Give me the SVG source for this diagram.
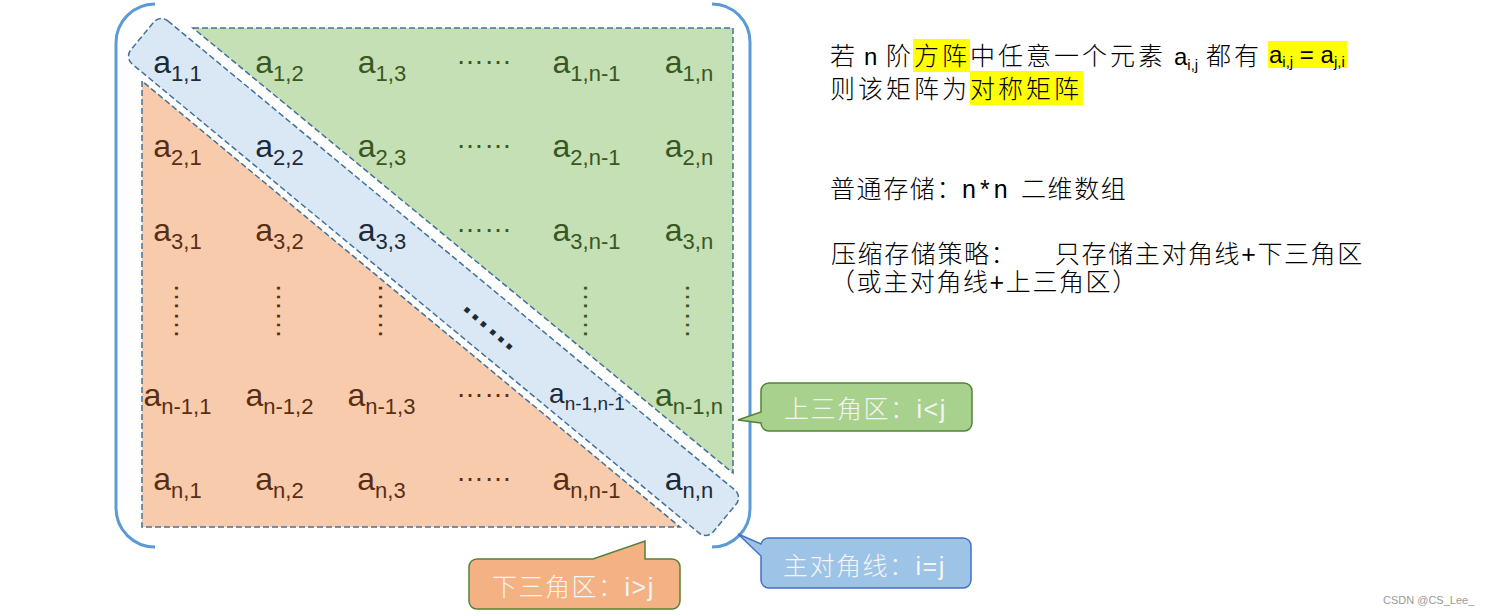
<svg xmlns="http://www.w3.org/2000/svg" width="1498" height="616" viewBox="0 0 1498 616">
<defs>
<style>
.dash{stroke:#41719C;stroke-width:1.5;stroke-dasharray:6 3}
.brk{fill:none;stroke:#5B9BD5;stroke-width:3}
.cell{font-family:"Liberation Sans",Arial,sans-serif;font-size:32px;text-anchor:middle}
.sub{font-size:22px}
.g{fill:#385723}
.o{fill:#5A2E12}
.b{fill:#1C2B39}
.dots{font-family:"Liberation Sans",Arial,sans-serif;font-size:28px;text-anchor:middle}
.cn{font-family:"Liberation Sans","Noto Sans CJK SC",sans-serif;font-size:25px;font-weight:300;fill:#000}
.w28{letter-spacing:3px}
.w27{letter-spacing:1.6px}
.lat{font-family:"Liberation Sans",Arial,sans-serif;font-size:24px;fill:#000}
.ls{font-size:15px}
.hl{fill:#FFFF00}
.co{font-family:"Liberation Sans","Noto Sans CJK SC",sans-serif;font-size:25px;font-weight:300;fill:#F5F5F5;letter-spacing:1.5px}
</style>
</defs>
<rect width="1498" height="616" fill="#fff"/>

<g id="brackets">
<path class="brk" d="M155,4 A39,39 0 0 0 116,43 V508 A39,39 0 0 0 155,547"/>
<path class="brk" d="M712,4 A38,38 0 0 1 750,42 V509 A38,38 0 0 1 712,547"/>
</g>

<g id="upper-triangle">
<polygon class="dash" points="193,28 733,28 733,473" fill="#C5E0B4"/>
</g>
<g id="lower-triangle">
<polygon class="dash" points="142,81 142,527 680,527" fill="#F8CBAD"/>
</g>
<g id="main-diagonal">
<rect class="dash" x="-378" y="-28" width="756" height="56" rx="10" fill="#DAE8F5" transform="translate(433.5,277) rotate(39.6)"/>
</g>

<g id="cells">
<!-- row 1 -->
<text class="cell b" x="177.5" y="73">a<tspan class="sub" dy="8">1,1</tspan></text>
<text class="cell g" x="279.5" y="73">a<tspan class="sub" dy="8">1,2</tspan></text>
<text class="cell g" x="382" y="73">a<tspan class="sub" dy="8">1,3</tspan></text>
<text class="dots g" x="484" y="63.5">……</text>
<text class="cell g" x="586.5" y="73">a<tspan class="sub" dy="8">1,n-1</tspan></text>
<text class="cell g" x="689" y="73">a<tspan class="sub" dy="8">1,n</tspan></text>
<!-- row 2 -->
<text class="cell o" x="177.5" y="157">a<tspan class="sub" dy="8">2,1</tspan></text>
<text class="cell b" x="279.5" y="157">a<tspan class="sub" dy="8">2,2</tspan></text>
<text class="cell g" x="382" y="157">a<tspan class="sub" dy="8">2,3</tspan></text>
<text class="dots g" x="484" y="148">……</text>
<text class="cell g" x="586.5" y="157">a<tspan class="sub" dy="8">2,n-1</tspan></text>
<text class="cell g" x="689" y="157">a<tspan class="sub" dy="8">2,n</tspan></text>
<!-- row 3 -->
<text class="cell o" x="177.5" y="241">a<tspan class="sub" dy="8">3,1</tspan></text>
<text class="cell o" x="279.5" y="241">a<tspan class="sub" dy="8">3,2</tspan></text>
<text class="cell b" x="382" y="241">a<tspan class="sub" dy="8">3,3</tspan></text>
<text class="dots g" x="484" y="232">……</text>
<text class="cell g" x="586.5" y="241">a<tspan class="sub" dy="8">3,n-1</tspan></text>
<text class="cell g" x="689" y="241">a<tspan class="sub" dy="8">3,n</tspan></text>
<!-- row 4: vertical and diagonal dots -->
<text class="dots o" y="1.4" transform="translate(176.5,311) rotate(90)">……</text>
<text class="dots o" y="1.4" transform="translate(278.5,311) rotate(90)">……</text>
<text class="dots o" y="1.4" transform="translate(380.5,311) rotate(90)">……</text>
<text class="dots b" y="1.7" style="font-size:34px;font-weight:bold" transform="translate(487.5,329) rotate(41)">……</text>
<text class="dots g" y="1.4" transform="translate(585,311) rotate(90)">……</text>
<text class="dots g" y="1.4" transform="translate(687,311) rotate(90)">……</text>
<!-- row n-1 -->
<text class="cell o" x="177.5" y="406">a<tspan class="sub" dy="8">n-1,1</tspan></text>
<text class="cell o" x="279.5" y="406">a<tspan class="sub" dy="8">n-1,2</tspan></text>
<text class="cell o" x="381.5" y="406">a<tspan class="sub" dy="8">n-1,3</tspan></text>
<text class="dots o" x="484" y="397">……</text>
<text class="cell b" x="587" y="403" style="font-size:28px">a<tspan style="font-size:19px" dy="7">n-1,n-1</tspan></text>
<text class="cell g" x="689" y="406">a<tspan class="sub" dy="8">n-1,n</tspan></text>
<!-- row n -->
<text class="cell o" x="177.5" y="490">a<tspan class="sub" dy="8">n,1</tspan></text>
<text class="cell o" x="279.5" y="490">a<tspan class="sub" dy="8">n,2</tspan></text>
<text class="cell o" x="381.5" y="490">a<tspan class="sub" dy="8">n,3</tspan></text>
<text class="dots o" x="484" y="481">……</text>
<text class="cell o" x="586.5" y="490">a<tspan class="sub" dy="8">n,n-1</tspan></text>
<text class="cell b" x="689" y="490">a<tspan class="sub" dy="8">n,n</tspan></text>
</g>

<g id="connectors"></g>

<g id="callout-upper">
<path d="M769,383 H964 A8,8 0 0 1 972,391 V423 A8,8 0 0 1 964,431 H769 A8,8 0 0 1 761,423 L738,420 L761,412 V391 A8,8 0 0 1 769,383 Z" fill="#A9D18E" stroke="#548235" stroke-width="1.5"/>
<text class="co" x="784" y="418">上三角区：i&lt;j</text>
</g>
<g id="callout-diagonal">
<path d="M769,538 H963 A8,8 0 0 1 971,546 V580 A8,8 0 0 1 963,588 H769 A8,8 0 0 1 761,580 V556 L738,534 L761,544 A8,8 0 0 1 769,538 Z" fill="#9DC3E6" stroke="#4472C4" stroke-width="1.5"/>
<text class="co" x="783" y="575">主对角线：i=j</text>
</g>
<g id="callout-lower">
<path d="M477,559 H593 L645,541 V559 H672 A8,8 0 0 1 680,567 V601 A8,8 0 0 1 672,609 H477 A8,8 0 0 1 469,601 V567 A8,8 0 0 1 477,559 Z" fill="#F4B183" stroke="#548235" stroke-width="1.5"/>
<text class="co" x="492" y="596">下三角区：i&gt;j</text>
</g>

<g id="description">
<rect class="hl" x="913" y="39" width="57" height="33"/>
<rect class="hl" x="1268" y="41" width="79" height="27"/>
<rect class="hl" x="970" y="71" width="113" height="34"/>
<text class="cn" x="830" y="65">若</text>
<text class="lat" x="864" y="65">n</text>
<text class="cn" x="886" y="65">阶</text>
<text class="cn w28" x="914" y="65">方阵中任意一个元素</text>
<text class="lat" x="1174" y="65">a<tspan class="ls" dy="5">i,j</tspan></text>
<text class="cn w28" x="1206" y="65">都有</text>
<text class="lat" x="1269" y="63">a<tspan class="ls" dy="4">i,j</tspan><tspan dy="-4"> = a</tspan><tspan class="ls" dy="4">j,i</tspan></text>
<text class="cn w28" x="830" y="98">则该矩阵为对称矩阵</text>
<text class="cn w27" x="830" y="198">普通存储：</text>
<text class="lat" x="962" y="198" style="font-size:25px;letter-spacing:4px">n*n</text>
<text class="cn w27" x="1021" y="198">二维数组</text>
<text class="cn w27" x="831" y="263">压缩存储策略：</text>
<text class="cn w27" x="1055" y="263">只存储主对角线+下三角区</text>
<text class="cn w27" x="830" y="291">（或主对角线+上三角区）</text>
</g>

<g id="watermark">
<text x="1383" y="604" style="font-family:'Liberation Sans',Arial,sans-serif;font-size:11px;fill:#9a9a9a">CSDN @CS_Lee_</text>
</g>
</svg>
